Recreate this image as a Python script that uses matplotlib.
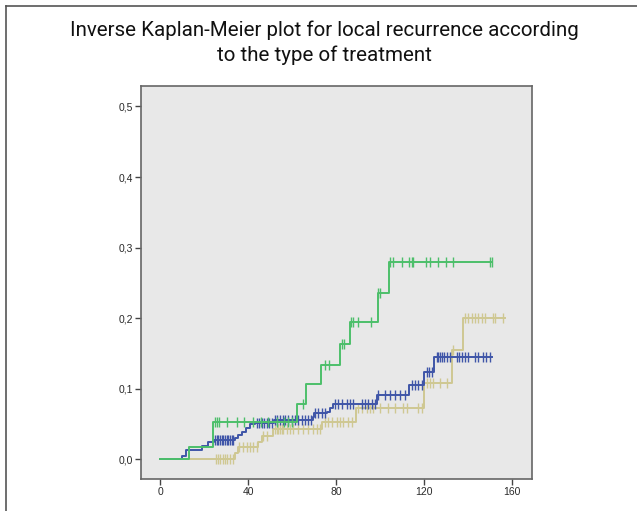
import numpy as np
import matplotlib
matplotlib.use("Agg")
import matplotlib.pyplot as plt
from matplotlib.lines import Line2D
from matplotlib.ticker import FuncFormatter

# ── STEP DATA (event times, cumulative incidence) ────────────────────────────
green_t = [0, 13.1, 24.1, 62.0, 66.1, 73.0, 81.7, 86.1, 98.8, 103.8]
green_v = [0, 0.018, 0.053, 0.079, 0.107, 0.133, 0.163, 0.195, 0.235, 0.279]
green_end = 150.9
green_cens = [25.0, 25.9, 26.8, 30.5, 34.7, 38.2, 42.0, 45.9, 49.1, 53.2, 56.2, 58.2, 59.7,
              65.0, 74.9, 76.8, 82.4, 83.5, 86.7, 87.7, 90.0, 95.8, 99.1, 99.9,
              104.4, 105.9, 110.0, 113.2, 114.3, 115.0, 120.8, 122.6, 126.1, 129.9,
              133.2, 149.9, 150.9]

blue_t = [0, 10.0, 11.5, 18.8, 21.8, 24.4, 34.0, 35.3, 37.1, 39.1, 40.9, 43.2, 51.5,
          69.4, 70.0, 75.7, 77.2, 78.7, 98.3, 113.2, 119.8, 124.4]
blue_v = [0, 0.005, 0.013, 0.019, 0.025, 0.027, 0.030, 0.034, 0.039, 0.044, 0.0495, 0.052,
          0.0557, 0.060, 0.065, 0.067, 0.072, 0.079, 0.091, 0.105, 0.123, 0.1445]
blue_end = 150.6
blue_cens = [24.9, 25.6, 26.4, 27.1, 27.9, 28.6, 29.4, 30.2, 30.9, 31.7, 32.4, 33.2,
             43.8, 45.0, 46.1, 47.1, 48.3, 49.6, 50.6,
             52.1, 53.2, 54.4, 55.6, 56.7, 58.2, 59.7, 61.2, 62.7, 64.3, 65.8, 67.3, 68.3,
             70.3, 71.8, 73.3, 74.9,
             79.4, 80.9, 82.4, 84.7, 86.2, 87.7, 91.5, 93.0, 94.6, 96.1, 97.6,
             99.1, 102.1, 104.4, 106.7, 108.9, 111.2,
             114.3, 115.8, 117.3, 118.8, 121.1, 122.3, 123.6,
             125.6, 126.4, 127.1, 127.9, 129.0, 130.2, 131.7, 134.7, 135.9, 137.0, 138.5,
             140.0, 143.0, 144.6, 146.8, 148.3, 149.9]

khaki_t = [0, 34.0, 35.3, 44.5, 46.0, 51.0, 73.7, 88.8, 119.8, 132.8, 137.4]
khaki_v = [0, 0.0085, 0.018, 0.025, 0.033, 0.0425, 0.053, 0.072, 0.1085, 0.155, 0.2]
khaki_end = 156.7
khaki_cens = [25.3, 26.4, 27.1, 28.3, 29.4, 30.5, 31.7, 33.2,
              35.9, 37.7, 39.3, 40.8, 42.3, 43.8, 46.8, 48.3,
              52.1, 52.9, 53.6, 54.4, 55.2, 55.9, 57.4, 59.0, 60.5, 62.7, 65.0, 67.3, 69.6,
              71.1, 72.6, 74.9, 76.4, 77.9, 80.2, 81.7, 83.2, 85.5, 87.0,
              90.0, 91.5, 93.8, 95.3, 96.8, 99.9, 103.7, 106.7, 110.5, 112.0, 117.3, 118.8,
              121.1, 122.6, 124.1, 127.1, 130.2, 132.9,
              138.5, 140.0, 141.5, 143.0, 144.6, 146.1, 147.6, 151.4, 152.1, 155.9]

x_ticks = [0, 40, 80, 120, 160]
y_ticks = [0.0, 0.1, 0.2, 0.3, 0.4, 0.5]

# ── STYLE ────────────────────────────────────────────────────────────────────
GREEN = '#4cbf6a'
BLUE  = '#3f55a8'
KHAKI = '#cfc892'
BG    = '#e8e8e8'
TITLE_FONT = ['Liberation Sans Narrow', 'Roboto', 'DejaVu Sans']

fig = plt.figure(figsize=(6.37, 5.11), dpi=100)
fig.patch.set_facecolor('white')

W, H = 637, 511
ax = fig.add_axes([141 / W, 1 - 479 / H, (532 - 141) / W, (479 - 86) / H])
ax.set_facecolor(BG)

series = [
    (khaki_t, khaki_v, khaki_end, khaki_cens, KHAKI),
    (blue_t, blue_v, blue_end, blue_cens, BLUE),
    (green_t, green_v, green_end, green_cens, GREEN),
]

for t, v, t_end, cens, col in series:
    tt = list(t) + [t_end]
    vv = list(v) + [v[-1]]
    ax.step(tt, vv, where='post', color=col, linewidth=1.4)
    # censored marks sit on the curve level at that time
    idx = np.searchsorted(np.array(t), np.array(cens), side='right') - 1
    cv = np.array(v)[idx]
    ax.plot(cens, cv, linestyle='none', marker='|', markersize=7,
            markeredgewidth=1.0, color=col)

ax.set_xlim(-8.8, 169)
ax.set_ylim(-0.028, 0.529)
ax.set_xticks(x_ticks)
ax.set_yticks(y_ticks)
ax.yaxis.set_major_formatter(FuncFormatter(lambda y, p: f"{y:.1f}".replace('.', ',')))
ax.tick_params(length=4, width=1.0, color='#444444', labelsize=7.5,
               labelcolor='#2a2a2a', pad=2)
for lab in ax.get_xticklabels() + ax.get_yticklabels():
    lab.set_family(['Liberation Sans', 'DejaVu Sans'])
for s in ax.spines.values():
    s.set_color('#666666')
    s.set_linewidth(1.2)

fig.text(324 / W, 1 - 30 / H,
         'Inverse Kaplan-Meier plot for local recurrence according',
         ha='center', va='center', fontsize=14.8, color='#111111',
         family=TITLE_FONT)
fig.text(324 / W, 1 - 55 / H, 'to the type of treatment',
         ha='center', va='center', fontsize=14.8, color='#111111',
         family=TITLE_FONT)

# outer frame (top and left)
fig.add_artist(Line2D([6 / W, 6 / W], [0, 1 - 6 / H], transform=fig.transFigure,
                      color='#555555', linewidth=1.2))
fig.add_artist(Line2D([6 / W, 1], [1 - 6 / H, 1 - 6 / H], transform=fig.transFigure,
                      color='#555555', linewidth=1.2))

fig.savefig('out.png', dpi=100)
